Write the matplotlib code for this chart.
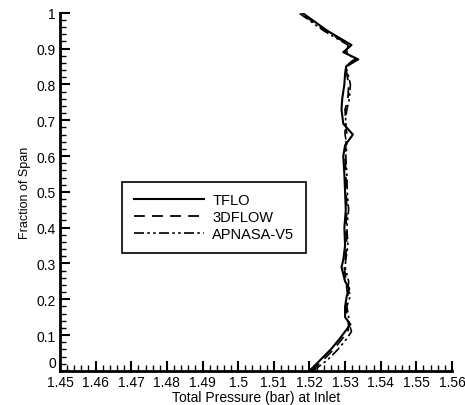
import matplotlib.pyplot as plt
from matplotlib.ticker import MultipleLocator

plt.rcParams['font.family'] = ['Liberation Sans', 'DejaVu Sans']

# span fraction stations
span = [0.0, 0.03, 0.06, 0.09, 0.11, 0.13, 0.15, 0.18, 0.21, 0.23, 0.25,
        0.27, 0.29, 0.31, 0.35, 0.40, 0.45, 0.50, 0.55, 0.60, 0.63, 0.66,
        0.69, 0.73, 0.76, 0.80, 0.83, 0.85, 0.87, 0.89, 0.91, 0.95, 1.0]

tflo = [1.5200, 1.5230, 1.5260, 1.5285, 1.5300, 1.5315, 1.5300, 1.5300,
        1.5305, 1.5312, 1.5300, 1.5295, 1.5290, 1.5295, 1.5300, 1.5298,
        1.5302, 1.5300, 1.5298, 1.5295, 1.5300, 1.5322, 1.5295, 1.5290,
        1.5292, 1.5298, 1.5300, 1.5303, 1.5337, 1.5295, 1.5318, 1.5250,
        1.5180]

dflow = [1.5205, 1.5238, 1.5268, 1.5292, 1.5308, 1.5310, 1.5305, 1.5302,
         1.5308, 1.5305, 1.5303, 1.5300, 1.5298, 1.5300, 1.5305, 1.5302,
         1.5305, 1.5303, 1.5302, 1.5300, 1.5302, 1.5305, 1.5302, 1.5300,
         1.5308, 1.5310, 1.5305, 1.5300, 1.5330, 1.5300, 1.5312, 1.5245,
         1.5175]

apnasa = [1.5210, 1.5250, 1.5280, 1.5305, 1.5318, 1.5312, 1.5310, 1.5305,
          1.5315, 1.5308, 1.5310, 1.5305, 1.5300, 1.5302, 1.5308, 1.5305,
          1.5310, 1.5306, 1.5305, 1.5302, 1.5305, 1.5300, 1.5300, 1.5305,
          1.5312, 1.5315, 1.5308, 1.5302, 1.5325, 1.5305, 1.5308, 1.5240,
          1.5170]

xticks = [1.45, 1.46, 1.47, 1.48, 1.49, 1.5, 1.51, 1.52, 1.53, 1.54, 1.55, 1.56]
xlabels = ['1.45', '1.46', '1.47', '1.48', '1.49', '1.5', '1.51', '1.52',
           '1.53', '1.54', '1.55', '1.56']
yticks = [0, 0.1, 0.2, 0.3, 0.4, 0.5, 0.6, 0.7, 0.8, 0.9, 1]
ylabels = ['', '0.1', '0.2', '0.3', '0.4', '0.5', '0.6', '0.7', '0.8',
           '0.9', '1']

fig = plt.figure(figsize=(4.65, 4.06), dpi=100)
ax = fig.add_axes([0.129, 0.084, 0.843, 0.882])

ax.plot(tflo, span, color='black', lw=1.5, ls='-', label='TFLO')
ax.plot(dflow, span, color='black', lw=1.3, ls=(0, (6, 4)), label='3DFLOW')
ax.plot(apnasa, span, color='black', lw=1.2, ls=(0, (6, 2, 1.5, 2, 1.5, 2)),
        label='APNASA-V5')

ax.set_xlim(1.45, 1.56)
ax.set_ylim(0, 1)
ax.xaxis.set_minor_locator(MultipleLocator(0.002))
ax.yaxis.set_minor_locator(MultipleLocator(0.02))
ax.set_xticks(xticks)
ax.set_xticklabels(xlabels)
ax.set_yticks(yticks)
ax.set_yticklabels(ylabels)

# the "0" at the origin sits a little above the 1.45 label
ax.annotate('0', xy=(0, 0), xycoords='axes fraction', xytext=(-3, 1),
            textcoords='offset points', ha='right', va='bottom', fontsize=10)

for s in ['top', 'right']:
    ax.spines[s].set_visible(False)
for s in ['left', 'bottom']:
    ax.spines[s].set_linewidth(2)

ax.tick_params(which='major', direction='in', length=7, width=1.5,
               labelsize=10, pad=3)
ax.tick_params(which='minor', direction='in', length=4, width=1)

ax.set_xlabel('Total Pressure (bar) at Inlet', fontsize=10, labelpad=1)
ax.set_ylabel('Fraction of Span', fontsize=9, labelpad=4)

leg = ax.legend(loc='upper left', bbox_to_anchor=(0.158, 0.528),
                borderaxespad=0, fancybox=False, framealpha=1,
                edgecolor='black', fontsize=10.5, handlelength=4.8,
                labelspacing=0.2, borderpad=0.8, handletextpad=0.6)
leg.get_frame().set_linewidth(1.2)

fig.savefig('out.png', dpi=100)
